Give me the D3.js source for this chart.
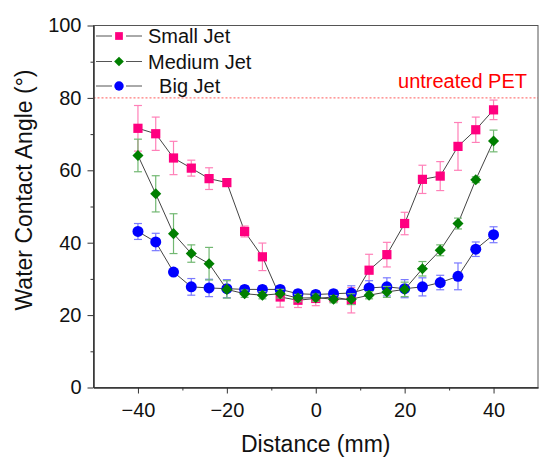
<!DOCTYPE html>
<html>
<head>
<meta charset="utf-8">
<script src="https://cdn.jsdelivr.net/npm/d3@7"></script>
<style>
  body { margin: 0; background: #fff; }
  svg { display: block; font-family: "Liberation Sans", Arial, sans-serif; }
</style>
</head>
<body>
<div class="chart"></div>
<script>
// distance along the sample (mm)
const distance = [-40, -36, -32, -28, -24, -20, -16, -12, -8, -4, 0, 4, 8, 12, 16, 20, 24, 28, 32, 36, 40];

// water contact angles (deg) and error bars
const smallJet = [71.6, 70.1, 63.4, 60.6, 57.7, 56.6, 43.1, 36.1, 25.0, 24.1, 24.6, 25.0, 24.1, 32.4, 36.7, 45.3, 57.5, 58.4, 66.6, 71.2, 76.7];
const smallErr = [6.3, 4.6, 4.6, 2.2, 3.0, 0.5, 1.5, 3.8, 2.8, 2.0, 2.0, 1.5, 3.5, 4.4, 3.4, 3.1, 3.9, 4.0, 6.6, 3.5, 2.7];
const mediumJet = [64.1, 53.5, 42.5, 37.0, 34.2, 27.1, 25.9, 25.5, 25.9, 24.7, 24.8, 24.4, 24.4, 25.5, 26.4, 27.1, 32.8, 37.9, 45.3, 57.4, 68.1];
const mediumErr = [4.5, 5.0, 5.5, 2.4, 4.5, 2.4, 1.0, 1.0, 1.2, 1.0, 1.0, 1.0, 1.5, 1.0, 1.5, 2.0, 2.0, 1.5, 1.5, 0.8, 3.0];
const bigJet = [43.1, 40.2, 31.9, 27.8, 27.5, 27.3, 27.1, 27.1, 27.1, 25.9, 25.7, 25.9, 26.1, 27.5, 27.8, 27.3, 27.8, 29.0, 30.7, 38.2, 42.2];
const bigErr = [2.2, 2.4, 0.5, 2.3, 2.4, 2.5, 1.0, 1.0, 1.0, 1.0, 1.0, 1.0, 2.0, 2.0, 2.5, 2.5, 2.5, 2.0, 3.7, 2.0, 2.2];

const untreatedPET = 80;
const xTicks = [-40, -20, 0, 20, 40];
const yTicks = [0, 20, 40, 60, 80, 100];

const W = 539, H = 457;
const margin = ({top: 25.5, right: 1, bottom: 69.5, left: 93.5});
const font = '"Liberation Sans", Arial, sans-serif';

const svg = d3.select('.chart').append('svg')
    .attr('width', W)
    .attr('height', H);

const xScale = d3.scaleLinear().domain([-50, 50]).range([margin.left, W - margin.right]);
const yScale = d3.scaleLinear().domain([0, 100]).range([H - margin.bottom, margin.top]);

//series (draw order: small, big, medium so diamonds sit on top)
const series = [
    {name: 'Small Jet', vals: smallJet, err: smallErr, color: '#ff0080', errColor: '#ff80b8', shape: 'square'},
    {name: 'Big Jet', vals: bigJet, err: bigErr, color: '#0000ff', errColor: '#7a7aff', shape: 'circle'},
    {name: 'Medium Jet', vals: mediumJet, err: mediumErr, color: '#007f00', errColor: '#72b872', shape: 'diamond'}
];

const symbolFor = shape => {
    if (shape === 'square') return d3.symbol().type(d3.symbolSquare).size(85);
    if (shape === 'circle') return d3.symbol().type(d3.symbolCircle).size(95);
    return d3.symbol().type(d3.symbolDiamond2).size(78);
};

//frame
svg.append('rect')
    .attr('x', margin.left)
    .attr('y', margin.top)
    .attr('width', W - margin.right - margin.left)
    .attr('height', H - margin.bottom - margin.top)
    .attr('fill', 'none')
    .attr('stroke', '#555')
    .attr('stroke-width', 1);

//untreated PET reference line
svg.append('line')
    .attr('x1', margin.left)
    .attr('x2', W - margin.right)
    .attr('y1', yScale(untreatedPET))
    .attr('y2', yScale(untreatedPET))
    .attr('stroke', '#ff3030')
    .attr('stroke-width', 0.8)
    .attr('stroke-dasharray', '2,2');

svg.append('text')
    .attr('x', 527)
    .attr('y', 88)
    .attr('text-anchor', 'end')
    .attr('font-size', 20)
    .attr('fill', '#ff0000')
    .text('untreated PET');

//axes
const xAxis = d3.axisBottom(xScale).tickValues(xTicks).tickSize(6).tickSizeOuter(0).tickPadding(9);
const xMinor = d3.axisBottom(xScale).tickValues([-30, -10, 10, 30]).tickSize(3).tickSizeOuter(0).tickFormat('');
const yAxis = d3.axisLeft(yScale).tickValues(yTicks).tickSize(6).tickSizeOuter(0).tickPadding(6);
const yMinor = d3.axisLeft(yScale).tickValues([10, 30, 50, 70, 90]).tickSize(3).tickSizeOuter(0).tickFormat('');

const gx = svg.append('g').attr('transform', `translate(0,${H - margin.bottom})`).call(xAxis);
svg.append('g').attr('transform', `translate(0,${H - margin.bottom})`).call(xMinor);
const gy = svg.append('g').attr('transform', `translate(${margin.left},0)`).call(yAxis);
svg.append('g').attr('transform', `translate(${margin.left},0)`).call(yMinor);

svg.selectAll('.domain').attr('stroke', '#333');
svg.selectAll('.tick line').attr('stroke', '#333');
gx.selectAll('text').attr('font-size', 20).attr('fill', '#111').attr('font-family', font);
gy.selectAll('text').attr('font-size', 20).attr('fill', '#111').attr('font-family', font);

//axes labels
svg.append('text')
    .attr('x', xScale(0))
    .attr('y', 452)
    .attr('text-anchor', 'middle')
    .attr('font-size', 23)
    .attr('fill', '#111')
    .text('Distance (mm)');

svg.append('text')
    .attr('transform', 'translate(32,190) rotate(-90)')
    .attr('text-anchor', 'middle')
    .attr('font-size', 23)
    .attr('fill', '#111')
    .text('Water Contact Angle (°)');

//data
series.forEach(s => {
    const pts = distance.map((d, i) => ({x: d, y: s.vals[i], e: s.err[i]}));
    const g = svg.append('g');

    g.append('path')
        .datum(pts)
        .attr('fill', 'none')
        .attr('stroke', '#444')
        .attr('stroke-width', 1)
        .attr('d', d3.line().x(d => xScale(d.x)).y(d => yScale(d.y)));

    const eb = g.selectAll('.err')
        .data(pts)
        .enter()
        .append('g')
        .attr('stroke', s.errColor)
        .attr('stroke-width', 1.2);
    eb.append('line')
        .attr('x1', d => xScale(d.x)).attr('x2', d => xScale(d.x))
        .attr('y1', d => yScale(d.y - d.e)).attr('y2', d => yScale(d.y + d.e));
    eb.append('line')
        .attr('x1', d => xScale(d.x) - 4).attr('x2', d => xScale(d.x) + 4)
        .attr('y1', d => yScale(d.y + d.e)).attr('y2', d => yScale(d.y + d.e));
    eb.append('line')
        .attr('x1', d => xScale(d.x) - 4).attr('x2', d => xScale(d.x) + 4)
        .attr('y1', d => yScale(d.y - d.e)).attr('y2', d => yScale(d.y - d.e));

    g.selectAll('.pt')
        .data(pts)
        .enter()
        .append('path')
        .attr('transform', d => `translate(${xScale(d.x)},${yScale(d.y)})`)
        .attr('d', symbolFor(s.shape)())
        .attr('fill', s.color);
});

//legend
const legendItems = [
    {label: 'Small Jet', shape: 'square', color: '#ff0080', dy: 36},
    {label: 'Medium Jet', shape: 'diamond', color: '#007f00', dy: 61.5},
    {label: '  Big Jet', shape: 'circle', color: '#0000ff', dy: 86}
];
const legend = svg.append('g');
legendItems.forEach(it => {
    legend.append('line')
        .attr('x1', 96).attr('x2', 112)
        .attr('y1', it.dy).attr('y2', it.dy)
        .attr('stroke', '#555').attr('stroke-width', 1);
    legend.append('line')
        .attr('x1', 126).attr('x2', 142)
        .attr('y1', it.dy).attr('y2', it.dy)
        .attr('stroke', '#555').attr('stroke-width', 1);
    legend.append('path')
        .attr('transform', `translate(119,${it.dy})`)
        .attr('d', symbolFor(it.shape).size(it.shape === 'circle' ? 70 : 60)())
        .attr('fill', it.color);
    legend.append('text')
        .attr('x', 148)
        .attr('y', it.dy + 7)
        .attr('font-size', 20)
        .attr('fill', '#111')
        .style('white-space', 'pre')
        .text(it.label);
});
</script>
</body>
</html>
